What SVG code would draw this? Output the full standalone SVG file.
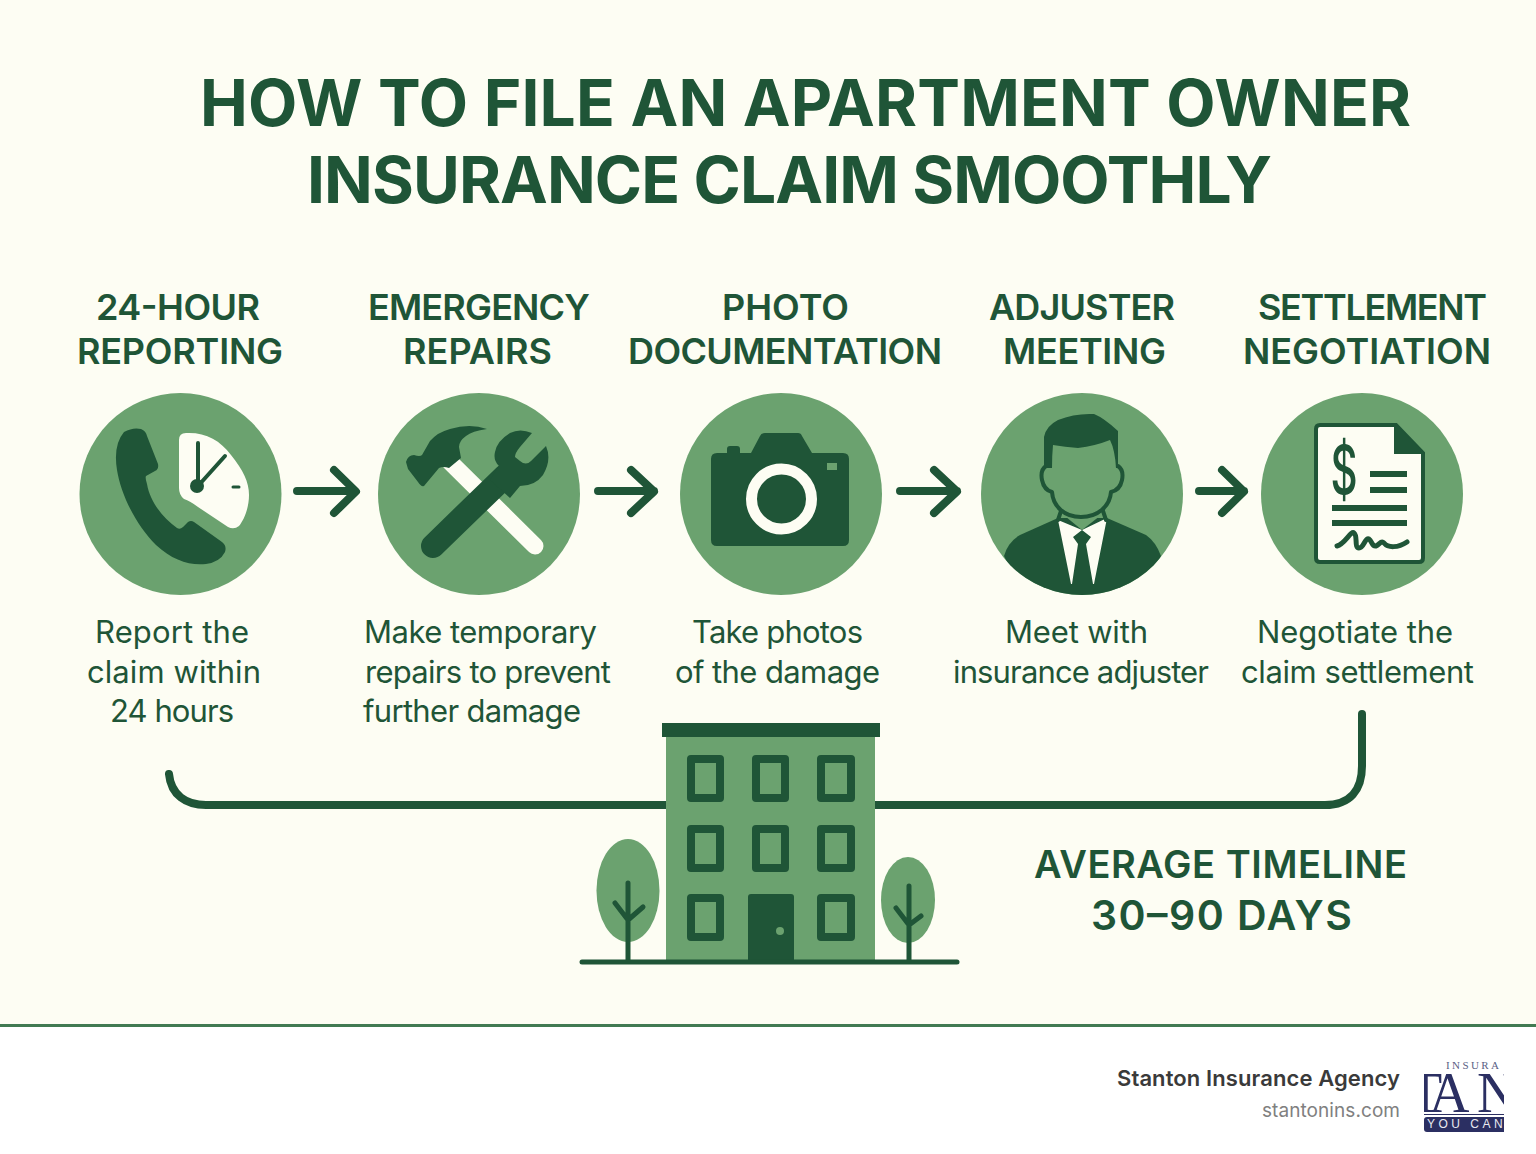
<svg xmlns="http://www.w3.org/2000/svg" width="1536" height="1154" viewBox="0 0 1536 1154">
<style>
.d{fill:#1f5537}.g{fill:#6ba26f}.w{fill:#fdfdf3}
.ln{fill:none;stroke:#1f5537;stroke-linecap:round;stroke-linejoin:round}
text{font-family:"Inter","Noto Sans","Liberation Sans",sans-serif;fill:#1f5537}
.t{font-size:64px;font-weight:700}
.h{font-size:36px;font-weight:600}
.b{font-size:31px;font-weight:400}
.a{font-size:38px;font-weight:600}
.a2{font-size:41px;font-weight:600}
.win{fill:none;stroke:#1f5537;stroke-width:8;stroke-linejoin:round}
</style>
<defs>
<clipPath id="logoclip"><rect x="1424" y="1058" width="80" height="78"/></clipPath>
<clipPath id="c4clip"><circle cx="1082" cy="494" r="101"/></clipPath>
</defs>
<rect width="1536" height="1154" class="w"/>
<rect y="1026" width="1536" height="128" fill="#fff"/>
<rect y="1024" width="1536" height="3" fill="#417a52"/>

<g id="title">
<text class="t" x="200" y="126" textLength="1211">HOW TO FILE AN APARTMENT OWNER</text>
<text class="t" x="307" y="203" textLength="965">INSURANCE CLAIM SMOOTHLY</text>
</g>

<g id="connectors">
<path class="ln" stroke-width="8" d="M297,491H355M334,470L356,491.500L334,513"/>
<path class="ln" stroke-width="8" d="M598,491H654M631,470L654,491.500L631,513"/>
<path class="ln" stroke-width="8" d="M900,491H957M934,470L957,491.500L934,513"/>
<path class="ln" stroke-width="8" d="M1199,491H1244M1222,470L1244,491.500L1222,513"/>
<path class="ln" stroke-width="8" d="M169,774C171,795 186,805 206,805H670M872,805H1325C1350,805 1362,790 1362,766V714"/>
</g>

<g id="step1">
<text class="h" x="96" y="320" textLength="164">24-HOUR</text>
<text class="h" x="77" y="364" textLength="206">REPORTING</text>
<circle class="g" cx="180.500" cy="494" r="101"/>
<path class="w" d="M179,440Q179,433 186,433C205,432 220,440 231,455C243,470 249,482 249,495C249,508 244,520 239,526Q234,530 228,527L198,507Q190,501 184,499Q179,495 179,488Z"/>
<path class="d" d="M124,432Q133,427 141,429Q146,431 147,436L158,464Q159,469 155,471L146,476Q145,478 147,484C150,502 163,518 177,528Q180,530 183,527L188,522Q191,520 194,522L222,542Q227,546 225,552Q220,562 206,564C190,566 172,560 156,545C136,525 121,495 117,470Q113,445 124,432Z"/>
<path class="ln" stroke-width="4" d="M198,443V487M225,456L198,486"/>
<circle class="d" cx="197" cy="486" r="7"/>
<path class="ln" stroke-width="3" d="M233,487H239"/>
<text class="b" x="95" y="643" textLength="154">Report the</text>
<text class="b" x="87" y="683" textLength="174">claim within</text>
<text class="b" x="110" y="722" textLength="124">24 hours</text>
</g>

<g id="step2">
<text class="h" x="368" y="320" textLength="222">EMERGENCY</text>
<text class="h" x="403" y="364" textLength="149">REPAIRS</text>
<circle class="g" cx="479" cy="494" r="101"/>
<path stroke="#fdfdf3" stroke-width="17" stroke-linecap="round" fill="none" d="M450,462L535,546"/>
<path class="d" d="M406,462Q408,455 414,455Q420,457 422,455L430,441Q438,432 450,429Q470,423 487,429Q472,431 466,436Q459,441 459,447L461,458L449,468Q443,466 439,468L424,486Q421,487 418,482L408,469Z"/>
<path class="ln" stroke-width="24" d="M433,546L505,476"/>
<path class="d" d="M532,433Q520,428 510,433Q497,441 495,452Q493,460 499,466L490,480L510,498L520,486Q535,486 543,475Q552,460 546,446L531,461Q526,466 520,461L515,457Q515,453 520,447Z"/>
<text class="b" x="364" y="643" textLength="233">Make temporary</text>
<text class="b" x="365" y="683" textLength="246">repairs to prevent</text>
<text class="b" x="363" y="722" textLength="218">further damage</text>
</g>

<g id="step3">
<text class="h" x="722" y="320" textLength="127">PHOTO</text>
<text class="h" x="628" y="364" textLength="314">DOCUMENTATION</text>
<circle class="g" cx="781" cy="494" r="101"/>
<path class="d" d="M727,453V449Q727,446 730,446H737Q740,446 740,449V453H751L760,436Q761,433 765,433H798Q801,433 802,436L812,453H843Q849,453 849,459V540Q849,546 843,546H717Q711,546 711,540V459Q711,453 717,453Z"/>
<circle cx="781.500" cy="499" r="30" fill="none" stroke="#fdfdf3" stroke-width="11"/>
<rect class="g" x="827" y="463" width="10" height="7"/>
<text class="b" x="692" y="643" textLength="171">Take photos</text>
<text class="b" x="675" y="683" textLength="205">of the damage</text>
</g>

<g id="step4">
<text class="h" x="989" y="320" textLength="186">ADJUSTER</text>
<text class="h" x="1003" y="364" textLength="163">MEETING</text>
<circle class="g" cx="1082" cy="494" r="101"/>
<g clip-path="url(#c4clip)">
<path class="d" d="M1004,556Q1008,542 1020,535L1058,518L1107,518L1146,535Q1156,542 1161,556L1130,610H1030Z"/>
<path class="w" d="M1058,520L1071,584H1094L1107,518L1082,530Z"/>
<path class="d" d="M1082,530L1091,537L1086,544L1093,584H1072L1078,544L1073,537Z"/>
</g>
<path class="g" d="M1060,512L1082,530L1105,512Z"/>
<path class="ln" stroke-width="4" d="M1061,511L1058,520M1103,511L1106,520"/>
<path class="ln" stroke-width="4" d="M1046,466Q1040,470 1042,480Q1044,490 1052,492C1053,506 1064,517 1081,517C1098,517 1110,506 1111,492Q1120,490 1122,480Q1124,470 1118,466"/>
<path class="d" d="M1044,468L1044,437Q1046,426 1058,420Q1075,413 1094,414Q1104,418 1118,431V468L1116,468Q1115,450 1110,440Q1095,446 1078,448Q1065,447 1053,445Q1052,455 1052,468Z"/>
<text class="b" x="1005" y="643" textLength="143">Meet with</text>
<text class="b" x="953" y="683" textLength="256">insurance adjuster</text>
</g>

<g id="step5">
<text class="h" x="1258" y="320" textLength="229">SETTLEMENT</text>
<text class="h" x="1243" y="364" textLength="248">NEGOTIATION</text>
<circle class="g" cx="1362" cy="494" r="101"/>
<path d="M1316,429Q1316,425 1320,425H1396L1423,453V558Q1423,562 1419,562H1320Q1316,562 1316,558Z" class="w" stroke="#1f5537" stroke-width="4"/>
<path class="d" d="M1394,425H1397L1425,454H1394Z"/>
<text transform="translate(1344,494) scale(.75,1.2)" text-anchor="middle" style="font-size:56px;font-weight:500">$</text>
<rect class="d" x="1370" y="471" width="37" height="6"/>
<rect class="d" x="1370" y="487" width="37" height="6"/>
<rect class="d" x="1332" y="505" width="75" height="6"/>
<rect class="d" x="1332" y="520" width="75" height="6"/>
<path class="ln" stroke-width="5" d="M1337,546C1345,544 1351,530 1354,533C1358,536 1354,548 1359,548C1364,548 1365,537 1369,539C1372,541 1372,547 1376,546C1380,544 1381,540 1384,543C1388,548 1398,548 1407,542"/>
<text class="b" x="1257" y="643" textLength="196">Negotiate the</text>
<text class="b" x="1241" y="683" textLength="233">claim settlement</text>
</g>

<g id="building">
<ellipse class="g" cx="628" cy="890.500" rx="31.500" ry="51.500"/>
<ellipse class="g" cx="908" cy="900" rx="27" ry="43"/>
<rect class="g" x="666" y="737" width="209" height="224"/>
<rect class="d" x="662" y="723" width="218" height="14"/>
<rect class="win" x="691" y="759" width="29" height="39"/>
<rect class="win" x="756" y="759" width="29" height="39"/>
<rect class="win" x="821" y="759" width="30" height="39"/>
<rect class="win" x="691" y="829" width="29" height="39"/>
<rect class="win" x="756" y="829" width="29" height="39"/>
<rect class="win" x="821" y="829" width="30" height="39"/>
<rect class="win" x="691" y="898" width="29" height="39"/>
<rect class="win" x="821" y="898" width="30" height="39"/>
<path class="d" d="M748,897Q748,894 751,894H791Q794,894 794,897V961H748Z"/>
<circle class="g" cx="780" cy="931" r="4"/>
<path class="ln" stroke-width="5" d="M628,883V960M615,903L628,920L643,907"/>
<path class="ln" stroke-width="5" d="M909,886V960M896,908L909,925L921,916"/>
<path class="ln" stroke-width="5" d="M582,962H957"/>
</g>

<g id="timeline">
<text class="a" x="1034" y="878" textLength="373">AVERAGE TIMELINE</text>
<text class="a2" x="1091" y="930" textLength="261">30–90 DAYS</text>
</g>

<g id="footer">
<text x="1117" y="1086" style="font-size:22px;font-weight:600;fill:#3a3a3a" textLength="283">Stanton Insurance Agency</text>
<text x="1262" y="1117" style="font-size:19px;fill:#808080" textLength="138">stantonins.com</text>
<g clip-path="url(#logoclip)">
<text x="1446" y="1069" style="font-family:'Liberation Serif',serif;font-size:11px;fill:#5a5f85;letter-spacing:2.400px">INSURA</text>
<text x="1408 1429 1477" y="1112" style="font-family:'Liberation Serif',serif;font-size:56px;fill:#2b2f62">TAN</text>
<rect x="1424" y="1114" width="90" height="1" fill="#2b2f62"/>
<rect x="1424" y="1117" width="90" height="15" rx="3" fill="#2b2f62"/>
<text x="1427" y="1128" style="font-family:'Liberation Sans',sans-serif;font-size:12px;fill:#e8e8f0;letter-spacing:3.500px">YOU CAN</text>
</g>
</g>
</svg>
